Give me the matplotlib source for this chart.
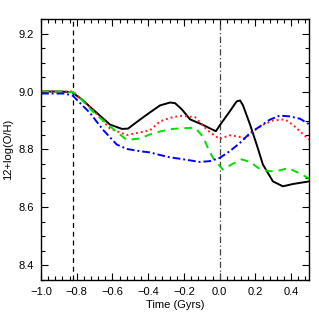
import matplotlib
matplotlib.use("Agg")
import matplotlib.pyplot as plt
from matplotlib.ticker import MultipleLocator

# Data
black_t = [-1.0, -0.9, -0.827, -0.77, -0.709, -0.614, -0.547, -0.513, -0.446, -0.390, -0.334, -0.278, -0.250,
           -0.211, -0.166, -0.101, -0.045, -0.021, 0.0, 0.056, 0.095, 0.114, 0.130, 0.170, 0.207,
           0.242, 0.298, 0.354, 0.410, 0.500]
black_z = [9.0, 9.0, 8.998, 8.972, 8.938, 8.886, 8.871, 8.872, 8.903, 8.928, 8.952, 8.962, 8.960,
           8.938, 8.904, 8.887, 8.870, 8.863, 8.883, 8.931, 8.966, 8.969, 8.953, 8.886, 8.817,
           8.748, 8.690, 8.673, 8.681, 8.690]

red_t = [-1.0, -0.9, -0.821, -0.77, -0.709, -0.614, -0.520, -0.446, -0.390, -0.334, -0.278, -0.222,
         -0.138, -0.101, -0.054, 0.0, 0.056, 0.102, 0.142, 0.186, 0.242, 0.298, 0.365, 0.410, 0.500]
red_z = [9.0, 9.0, 9.0, 8.972, 8.936, 8.872, 8.850, 8.859, 8.866, 8.897, 8.909, 8.916,
         8.912, 8.887, 8.859, 8.836, 8.849, 8.845, 8.838, 8.862, 8.885, 8.900, 8.904, 8.885, 8.834]

green_t = [-1.0, -0.9, -0.821, -0.77, -0.709, -0.614, -0.520, -0.446, -0.390, -0.334, -0.278, -0.222,
           -0.138, -0.093, -0.065, -0.037, -0.015, 0.017, 0.074, 0.123, 0.170, 0.226, 0.281,
           0.337, 0.382, 0.450, 0.500]
green_z = [9.0, 9.0, 8.998, 8.970, 8.930, 8.880, 8.833, 8.838, 8.852, 8.862, 8.870, 8.873,
           8.875, 8.844, 8.804, 8.770, 8.755, 8.731, 8.751, 8.766, 8.757, 8.732, 8.725,
           8.728, 8.736, 8.717, 8.700]

blue_t = [-1.0, -0.866, -0.821, -0.726, -0.653, -0.576, -0.520, -0.446, -0.390, -0.334, -0.278,
          -0.222, -0.110, -0.054, 0.0, 0.056, 0.114, 0.170, 0.226, 0.281, 0.337, 0.393, 0.450, 0.500]
blue_z = [8.993, 8.993, 8.985, 8.926, 8.868, 8.817, 8.802, 8.794, 8.790, 8.781, 8.773,
          8.768, 8.757, 8.760, 8.771, 8.794, 8.823, 8.857, 8.880, 8.903, 8.917, 8.914, 8.906, 8.887]

vline_dashed = -0.82
vline_dashdot = 0.0

xlabel = "Time (Gyrs)"
ylabel = "12+log(O/H)"

plt.rcParams['font.family'] = ['Liberation Sans', 'DejaVu Sans']
fig = plt.figure(figsize=(3.19, 3.19), dpi=100)
ax = fig.add_axes([0.1285, 0.1223, 0.8402, 0.8181])

ax.axvline(vline_dashed, color='black', linestyle=(0, (4, 3)), linewidth=0.9)
ax.axvline(vline_dashdot, color='#444444', linestyle=(0, (5, 2, 1, 2)), linewidth=0.9)

ax.plot(black_t, black_z, color='black', linewidth=1.4, linestyle='-')
ax.plot(red_t, red_z, color='#ff2020', linewidth=1.4, linestyle=(0, (1, 1.5)))
ax.plot(green_t, green_z, color='#00e000', linewidth=1.4, linestyle=(0, (4, 3)))
ax.plot(blue_t, blue_z, color='#0000ff', linewidth=1.4, linestyle=(0, (4, 1.5, 1, 1.5)))

ax.set_xlim(-1.0, 0.5)
ax.set_ylim(8.35, 9.25)
ax.xaxis.set_major_locator(MultipleLocator(0.2))
ax.xaxis.set_minor_locator(MultipleLocator(0.04))
ax.yaxis.set_major_locator(MultipleLocator(0.2))
ax.yaxis.set_minor_locator(MultipleLocator(0.05))
ax.tick_params(which='both', direction='in', top=True, right=True, labelsize=8, width=0.8)
ax.tick_params(which='major', length=5)
ax.tick_params(which='minor', length=3)
ax.tick_params(axis='x', pad=5)
ax.tick_params(axis='y', pad=5)
for s in ax.spines.values():
    s.set_linewidth(1.0)
ax.set_xlabel(xlabel, fontsize=8, labelpad=2)
ax.set_ylabel(ylabel, fontsize=8, labelpad=4)

fig.savefig("out.png", dpi=100)
